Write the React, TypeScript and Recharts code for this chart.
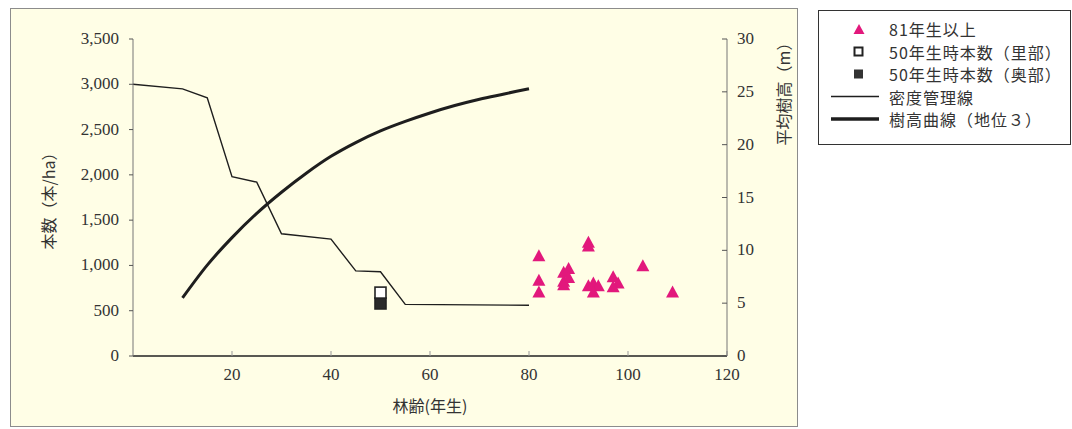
import React from 'react';
import { ComposedChart, Line, Scatter, XAxis, YAxis } from 'recharts';

// 密度管理線
const densityAge = [0, 10, 15, 20, 25, 30, 40, 45, 50, 55, 80];
const densityValue = [3000, 2950, 2850, 1980, 1920, 1350, 1290, 940, 930, 570, 560];

// 樹高曲線(地位3)
const heightAge = [10, 15, 20, 25, 30, 35, 40, 45, 50, 55, 60, 65, 70, 75, 80];
const heightValue = [5.5, 8.6, 11.2, 13.5, 15.5, 17.3, 18.9, 20.2, 21.3, 22.2, 23.0, 23.7, 24.3, 24.8, 25.3];

// 81年生以上
const oldAge = [82, 82, 82, 87, 88, 87, 88, 87, 92, 92, 92, 93, 94, 93, 97, 98, 97, 103, 109];
const oldDensity = [1100, 830, 700, 920, 960, 820, 860, 780, 1250, 1210, 770, 800, 770, 700, 870, 800, 760, 990, 700];

// 50年生時本数
const age50 = [50];
const satoDensity = [700]; // 里部
const okuDensity = [580]; // 奥部

const xTicks = [20, 40, 60, 80, 100, 120];
const leftTicks = [0, 500, 1000, 1500, 2000, 2500, 3000, 3500];
const rightTicks = [0, 5, 10, 15, 20, 25, 30];

const legendLabels = ['81年生以上', '50年生時本数（里部）', '50年生時本数（奥部）', '密度管理線', '樹高曲線（地位３）'];

const densityData = densityAge.map((a, i) => ({ age: a, density: densityValue[i] }));
const heightData = heightAge.map((a, i) => ({ age: a, height: heightValue[i] }));
const oldData = oldAge.map((a, i) => ({ age: a, density: oldDensity[i] }));
const satoData = age50.map((a, i) => ({ age: a, density: satoDensity[i] }));
const okuData = age50.map((a, i) => ({ age: a, density: okuDensity[i] }));

const MAGENTA = '#e2187c';
const serifStyle = { fontFamily: '"Liberation Serif", "DejaVu Serif", serif', fontSize: 17 };
const cjk = '"Noto Sans CJK JP", sans-serif';

const Triangle = (props: any) => {
  const { cx, cy } = props;
  if (cx == null || cy == null) return null;
  return <polygon points={`${cx},${cy - 7} ${cx - 6.5},${cy + 5} ${cx + 6.5},${cy + 5}`} fill={MAGENTA} />;
};

const OpenSquare = (props: any) => {
  const { cx, cy } = props;
  if (cx == null || cy == null) return null;
  return <rect x={cx - 5.5} y={cy - 5.5} width={11} height={11} fill="#fff" stroke="#222" strokeWidth={1.6} />;
};

const FilledSquare = (props: any) => {
  const { cx, cy } = props;
  if (cx == null || cy == null) return null;
  return <rect x={cx - 5.5} y={cy - 5.5} width={11} height={11} fill="#2a2a2a" stroke="#222" strokeWidth={1.6} />;
};

const fmt = (v: number) => v.toLocaleString('en-US');

const XTick = (props: any) => {
  const { x, y, payload } = props;
  return (
    <text x={x} y={y} dy={12} textAnchor="middle" style={serifStyle} fill="#333">
      {payload.value}
    </text>
  );
};

const LeftTick = (props: any) => {
  const { x, y, payload } = props;
  return (
    <text x={x} y={y} dy={5} textAnchor="end" style={serifStyle} fill="#333">
      {fmt(payload.value)}
    </text>
  );
};

const RightTick = (props: any) => {
  const { x, y, payload } = props;
  return (
    <text x={x} y={y} dy={5} textAnchor="start" style={serifStyle} fill="#333">
      {payload.value}
    </text>
  );
};

export default function App() {
  const rowY = [18, 40.5, 63, 85.5, 108];
  return (
    <div style={{ position: 'absolute', left: 0, top: 0, width: 1072, height: 429, background: '#fff', overflow: 'hidden' }}>
      <div style={{ position: 'absolute', left: 10, top: 8, width: 786, height: 417, background: '#fffee6', border: '1px solid #8c8c8c' }} />
      <div style={{ position: 'absolute', left: 0, top: 0 }}>
        <ComposedChart width={1072} height={429} margin={{ top: 39, right: 295, left: 73, bottom: 43 }}>
          <XAxis
            xAxisId="x"
            type="number"
            dataKey="age"
            domain={[0, 120]}
            ticks={xTicks}
            allowDataOverflow
            height={30}
            tick={<XTick />}
            tickSize={-5}
            tickMargin={17}
            tickLine={{ stroke: '#999' }}
            axisLine={{ stroke: '#222', strokeWidth: 1.6 }}
          />
          <YAxis
            yAxisId="left"
            dataKey="density"
            domain={[0, 3500]}
            ticks={leftTicks}
            width={60}
            tick={<LeftTick />}
            tickSize={4}
            tickMargin={10}
            tickLine={{ stroke: '#555' }}
            axisLine={{ stroke: '#777' }}
          />
          <YAxis
            yAxisId="right"
            orientation="right"
            dataKey="height"
            domain={[0, 30]}
            ticks={rightTicks}
            width={50}
            tick={<RightTick />}
            tickSize={-5}
            tickMargin={15}
            tickLine={{ stroke: '#555' }}
            axisLine={{ stroke: '#777' }}
          />
          <Line
            xAxisId="x"
            yAxisId="left"
            data={densityData}
            dataKey="density"
            type="linear"
            stroke="#1e1e1e"
            strokeWidth={1.4}
            dot={false}
            isAnimationActive={false}
          />
          <Line
            xAxisId="x"
            yAxisId="right"
            data={heightData}
            dataKey="height"
            type="monotone"
            stroke="#1e1e1e"
            strokeWidth={3}
            dot={false}
            isAnimationActive={false}
          />
          <Scatter xAxisId="x" yAxisId="left" data={okuData} dataKey="density" shape={<FilledSquare />} isAnimationActive={false} />
          <Scatter xAxisId="x" yAxisId="left" data={satoData} dataKey="density" shape={<OpenSquare />} isAnimationActive={false} />
          <Scatter xAxisId="x" yAxisId="left" data={oldData} dataKey="density" shape={<Triangle />} isAnimationActive={false} />
        </ComposedChart>
      </div>
      {/* axis titles */}
      <div style={{ position: 'absolute', left: 430, top: 405, transform: 'translate(-50%, -50%)', fontFamily: cjk, fontSize: 16, color: '#333', whiteSpace: 'nowrap', lineHeight: 1 }}>林齢(年生)</div>
      <div style={{ position: 'absolute', left: 48, top: 197, transform: 'translate(-50%, -50%) rotate(-90deg)', fontFamily: cjk, fontSize: 16, color: '#333', whiteSpace: 'nowrap', lineHeight: 1 }}>本数（本/ha）</div>
      <div style={{ position: 'absolute', left: 783, top: 90, transform: 'translate(-50%, -50%) rotate(-90deg)', fontFamily: cjk, fontSize: 16, color: '#333', whiteSpace: 'nowrap', lineHeight: 1 }}>平均樹高（m）</div>
      {/* legend */}
      <div style={{ position: 'absolute', left: 818, top: 10, width: 251, height: 133, background: '#fff', border: '1px solid #333' }}>
        <svg width={251} height={133} style={{ position: 'absolute', left: 0, top: 0 }}>
          <polygon points={`${40},${rowY[0] - 5} ${34.5},${rowY[0] + 5} ${45.5},${rowY[0] + 5}`} fill={MAGENTA} />
          <rect x={35.5} y={rowY[1] - 4} width={8} height={8} fill="#fff" stroke="#222" strokeWidth={2} />
          <rect x={35.5} y={rowY[2] - 4} width={8} height={8} fill="#333" stroke="#333" strokeWidth={1} />
          <line x1={12} x2={60} y1={rowY[3]} y2={rowY[3]} stroke="#1e1e1e" strokeWidth={1.5} />
          <line x1={12} x2={60} y1={rowY[4]} y2={rowY[4]} stroke="#1e1e1e" strokeWidth={3.5} />
        </svg>
        {legendLabels.map((t, i) => (
          <div key={t} style={{ position: 'absolute', left: 70, top: rowY[i] - 8, height: 16, fontFamily: cjk, fontSize: 16, letterSpacing: 1, color: '#333', whiteSpace: 'nowrap', lineHeight: '16px' }}>{t}</div>
        ))}
      </div>
    </div>
  );
}
